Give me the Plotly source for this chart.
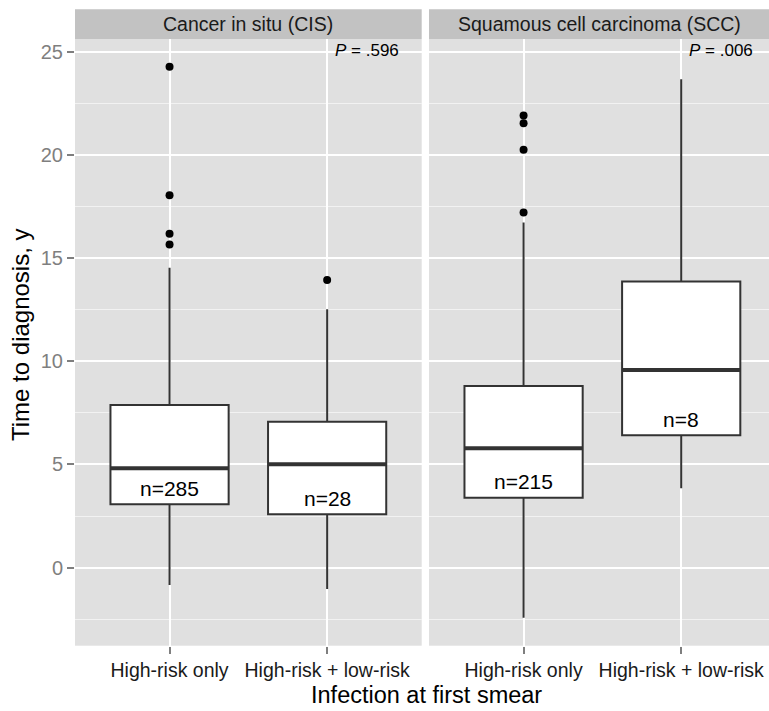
import plotly.graph_objects as go

# ---------------- data ----------------
categories = ["High-risk only", "High-risk + low-risk"]
panels = ["Cancer in situ (CIS)", "Squamous cell carcinoma (SCC)"]
positions = [1, 2]

cis_q1 = [3.07, 2.59]
cis_median = [4.82, 5.01]
cis_q3 = [7.88, 7.07]
cis_lowerfence = [-0.84, -1.03]
cis_upperfence = [14.53, 12.52]
cis_outliers_hr = [15.65, 16.18, 18.04, 24.26]
cis_outliers_hrlr = [13.94]
cis_n = [285, 28]
cis_n_label_y = [3.85, 3.36]

scc_q1 = [3.39, 6.41]
scc_median = [5.78, 9.58]
scc_q3 = [8.80, 13.86]
scc_lowerfence = [-2.42, 3.85]
scc_upperfence = [16.72, 23.66]
scc_outliers_hr = [17.20, 20.24, 21.53, 21.90]
scc_outliers_hrlr = []
scc_n = [215, 8]
scc_n_label_y = [4.17, 7.19]

p_values = [".596", ".006"]
p_label_y = 25.06

y_ticks = [0, 5, 10, 15, 20, 25]
y_minor = [-2.5, 2.5, 7.5, 12.5, 17.5, 22.5]

# ---------------- style ----------------
FONT = "Liberation Sans, Arial, Helvetica, sans-serif"
W, H = 769, 711
PANEL_BG = "#e0e0e0"
STRIP_BG = "#c2c2c2"
BOX_LINE = "#333333"
BOX_W = 0.75

x1_dom = [75 / W, 421.7 / W]
x2_dom = [429 / W, 1.0]
y_dom = [(H - 645.7) / H, (H - 39) / H]
strip_top = (H - 9.3) / H

fig = go.Figure()

facets = [
    dict(xa="x", ya="y", q1=cis_q1, med=cis_median, q3=cis_q3,
         lo=cis_lowerfence, hi=cis_upperfence,
         outs=[cis_outliers_hr, cis_outliers_hrlr], n=cis_n, ny=cis_n_label_y),
    dict(xa="x2", ya="y2", q1=scc_q1, med=scc_median, q3=scc_q3,
         lo=scc_lowerfence, hi=scc_upperfence,
         outs=[scc_outliers_hr, scc_outliers_hrlr], n=scc_n, ny=scc_n_label_y),
]

for f in facets:
    fig.add_trace(go.Box(
        x=positions, q1=f["q1"], median=f["med"], q3=f["q3"],
        lowerfence=f["lo"], upperfence=f["hi"],
        width=BOX_W, whiskerwidth=0, boxpoints=False,
        fillcolor="white", line=dict(color=BOX_LINE, width=2),
        xaxis=f["xa"], yaxis=f["ya"], showlegend=False, hoverinfo="skip"))
    # thick median bars
    mx, my = [], []
    for p, m in zip(positions, f["med"]):
        mx += [p - BOX_W / 2, p + BOX_W / 2, None]
        my += [m, m, None]
    fig.add_trace(go.Scatter(
        x=mx, y=my, mode="lines", line=dict(color=BOX_LINE, width=4),
        xaxis=f["xa"], yaxis=f["ya"], showlegend=False, hoverinfo="skip"))
    # outliers
    ox, oy = [], []
    for p, vals in zip(positions, f["outs"]):
        ox += [p] * len(vals)
        oy += vals
    fig.add_trace(go.Scatter(
        x=ox, y=oy, mode="markers", marker=dict(color="black", size=8),
        xaxis=f["xa"], yaxis=f["ya"], showlegend=False, hoverinfo="skip"))
    # n labels
    for p, n, ny in zip(positions, f["n"], f["ny"]):
        fig.add_annotation(x=p, y=ny, xref=f["xa"], yref=f["ya"],
                           text=f"n={n}", showarrow=False,
                           font=dict(family=FONT, size=21, color="black"))

# P values
for xa, ya, pv in zip(["x", "x2"], ["y", "y2"], p_values):
    fig.add_annotation(x=2.25, y=p_label_y, xref=xa, yref=ya,
                       text=f"<i>P</i> = {pv}", showarrow=False,
                       font=dict(family=FONT, size=17, color="black"))

# strips
for xa, title in zip(["x", "x2"], panels):
    fig.add_shape(type="rect", xref=f"{xa} domain", yref="paper",
                  x0=0, x1=1, y0=y_dom[1], y1=strip_top,
                  fillcolor=STRIP_BG, line=dict(width=0), layer="below")
    fig.add_annotation(xref=f"{xa} domain", yref="paper", x=0.5,
                       y=(y_dom[1] + strip_top) / 2, text=title,
                       showarrow=False, yanchor="middle",
                       font=dict(family=FONT, size=19.5, color="#1a1a1a"))

# axis titles
fig.add_annotation(xref="paper", yref="paper", x=426 / W, y=1.5 / H,
                   text="Infection at first smear", showarrow=False,
                   yanchor="bottom", font=dict(family=FONT, size=23.5, color="black"))
fig.add_annotation(xref="paper", yref="paper", x=21 / W, y=(H - 335) / H,
                   text="Time to diagnosis, y", showarrow=False, textangle=-90,
                   xanchor="center", yanchor="middle",
                   font=dict(family=FONT, size=24, color="black"))

xcommon = dict(tickvals=positions, ticktext=categories, showgrid=True,
               gridcolor="white", gridwidth=2, ticks="outside", ticklen=7,
               tickwidth=1.5, tickcolor="#7f7f7f", zeroline=False,
               showline=False, fixedrange=True,
               tickfont=dict(family=FONT, size=19.5, color="#1a1a1a"))
ycommon = dict(range=[-3.78, 25.61], tickvals=y_ticks, showgrid=True,
               gridcolor="white", gridwidth=2, zeroline=False, showline=False,
               domain=y_dom,
               minor=dict(tickvals=y_minor, showgrid=True, gridcolor="#f2f2f2",
                          gridwidth=1, ticks=""))

fig.update_layout(
    width=W, height=H, margin=dict(l=0, r=0, t=0, b=0),
    paper_bgcolor="white", plot_bgcolor=PANEL_BG, showlegend=False,
    xaxis=dict(domain=x1_dom, range=[0.4, 2.6], anchor="y", **xcommon),
    xaxis2=dict(domain=x2_dom, range=[0.4, 2.557], anchor="y2", **xcommon),
    yaxis=dict(anchor="x", ticks="outside", ticklen=7, tickwidth=1.5,
               tickcolor="#7f7f7f",
               tickfont=dict(family=FONT, size=20, color="#7f7f7f"), **ycommon),
    yaxis2=dict(anchor="x2", matches="y", showticklabels=False, ticks="",
                **ycommon),
)

fig.write_html("out.html")
